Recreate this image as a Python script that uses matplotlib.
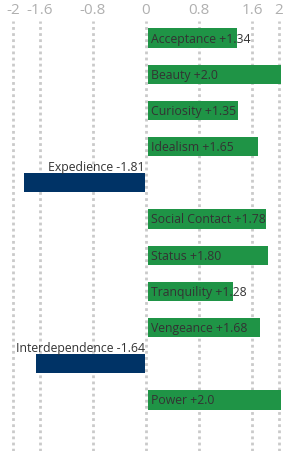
import matplotlib
matplotlib.use("Agg")
import matplotlib.pyplot as plt

names = ["Acceptance", "Beauty", "Curiosity", "Idealism", "Expedience",
         "Social Contact", "Status", "Tranquility", "Vengeance",
         "Interdependence", "Power"]
values = [1.34, 2.0, 1.35, 1.65, -1.81, 1.78, 1.80, 1.28, 1.68, -1.64, 2.0]
labels = ["+1.34", "+2.0", "+1.35", "+1.65", "-1.81", "+1.78", "+1.80",
          "+1.28", "+1.68", "-1.64", "+2.0"]
ticks = [-2, -1.6, -0.8, 0, 0.8, 1.6, 2]
tick_labels = ["-2", "-1.6", "-0.8", "0", "0.8", "1.6", "2"]

plt.rcParams['font.family'] = ['Open Sans', 'DejaVu Sans']

fig = plt.figure(figsize=(2.86, 4.52), dpi=100)
ax = fig.add_axes([0, 0, 1, 430 / 452])

green = "#1f9446"
navy = "#003366"

for t in ticks:
    ax.axvline(t, color="#cacaca", lw=2, ls=(0, (1, 1.2)), zorder=0)

for i, (n, v, l) in enumerate(zip(names, values, labels)):
    c = green if v > 0 else navy
    left = 0.03 if v > 0 else -0.02
    ax.barh(i, v, left=left, height=0.53, color=c, zorder=2)
    if v > 0:
        ax.text(0.08, i, n + " " + l, va="center", ha="left",
                fontsize=8.8, color="#333333", zorder=3)
    else:
        ax.text(-0.02, i - 0.46, n + " " + l, va="center", ha="right",
                fontsize=8.8, color="#333333", zorder=3)

ax.set_xlim(-2.195, 2.105)
ax.set_ylim(11.41, -0.47)
ax.xaxis.tick_top()
ax.set_xticks(ticks)
ax.set_xticklabels(tick_labels, color="#b0b0b0", fontsize=11)
ax.tick_params(axis="x", length=0, pad=3)
ax.set_yticks([])
for s in ax.spines.values():
    s.set_visible(False)

fig.savefig("out.png", dpi=100)
